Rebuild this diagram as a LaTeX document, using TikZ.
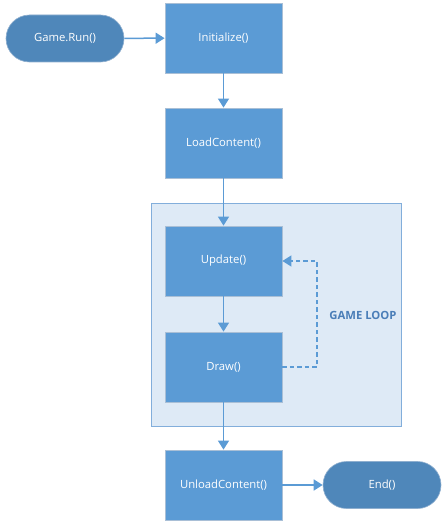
\documentclass[tikz,border=0pt]{standalone}
\usepackage{fontspec}
\setmainfont{Open Sans}
\usetikzlibrary{arrows.meta,shapes.misc}
\definecolor{boxfill}{HTML}{5B9BD5}
\definecolor{boxline}{HTML}{A9BFD6}
\definecolor{termfill}{HTML}{4F87BA}
\definecolor{termline}{HTML}{8FAFCF}
\definecolor{grpfill}{HTML}{DEEAF6}
\definecolor{grpline}{HTML}{82AEDB}
\definecolor{arr}{HTML}{5B9BD5}
\definecolor{looptext}{HTML}{4A7EB8}
\tikzset{
  stepbox/.style={draw=boxline, line width=0.8pt, fill=boxfill, minimum width=117pt, minimum height=70pt, inner sep=0pt, text=white, font=\fontsize{11.3}{13}\selectfont},
  term/.style={rounded rectangle, draw=termline, line width=0.6pt, fill=termfill, minimum width=118pt, minimum height=47pt, inner sep=0pt, text=white, font=\fontsize{11.3}{13}\selectfont},
  flow/.style={draw=arr, line width=1.5pt, -{Triangle[length=9pt,width=11pt]}},
  loopflow/.style={draw=arr, line width=1.4pt, dashed, dash pattern=on 4.5pt off 3pt, -{Triangle[length=9pt,width=11pt]}},
}
\begin{document}
\begin{tikzpicture}[x=1pt,y=-1pt]
\useasboundingbox (0,0) rectangle (447,524);
\fill[white] (0,0) rectangle (447,524);
\node[draw=grpline, line width=0.8pt, fill=grpfill, minimum width=250pt, minimum height=223pt, inner sep=0pt] (grp) at (276,314.5) {};
\node[stepbox] (init) at (223.5,38) {Initialize()};
\node[stepbox] (load) at (223.5,143) {LoadContent()};
\node[stepbox] (upd) at (223.5,261) {Update()};
\node[stepbox] (draw) at (223.5,367) {Draw()};
\node[stepbox] (unload) at (223.5,485) {UnloadContent()};
\node[term] (run) at (65,38.5) {Game.Run()};
\node[term] (end) at (382,485) {End()};
\node[text=looptext, font=\bfseries\fontsize{11.3}{13}\selectfont] (lbl) at (363,315) {GAME LOOP};
\coordinate (c1) at (317,367);
\coordinate (c2) at (317,261);
\draw[flow] (run) -- (init);
\draw[flow] (init) -- (load);
\draw[flow] (load) -- (upd);
\draw[flow] (upd) -- (draw);
\draw[flow] (draw) -- (unload);
\draw[flow] (unload) -- (end);
\draw[loopflow] (draw.east) -- (c1) -- (c2) -- (upd.east);
\end{tikzpicture}
\end{document}
